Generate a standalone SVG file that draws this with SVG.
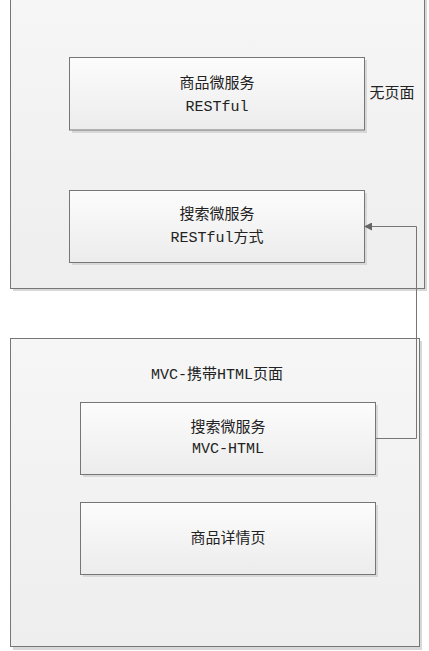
<svg xmlns="http://www.w3.org/2000/svg" width="429" height="651" viewBox="0 0 429 651">
<style>
.cont{fill:url(#gc);stroke:#767676;stroke-width:1}
.node{fill:url(#gn);stroke:#767676;stroke-width:1}
.sh{fill:#d8d8d8}
text{font-family:"Liberation Mono","Noto Sans CJK SC",monospace;font-size:15px;fill:#222;text-anchor:middle}
.conn{fill:none;stroke:#767676;stroke-width:1}
</style>
<defs>
<linearGradient id="gc" x1="0" y1="0" x2="0" y2="1"><stop offset="0" stop-color="#f6f6f6"/><stop offset="1" stop-color="#eeeeee"/></linearGradient>
<linearGradient id="gn" x1="0" y1="0" x2="0" y2="1"><stop offset="0" stop-color="#fcfcfc"/><stop offset="1" stop-color="#ececec"/></linearGradient>
<marker id="arr" markerWidth="8" markerHeight="8" refX="7" refY="4" orient="auto" markerUnits="userSpaceOnUse"><path d="M0,0 L8,4 L0,8 Z" fill="#666"/></marker>
</defs>
<g id="container-top">
<rect class="sh" x="13" y="-5" width="414" height="296"/>
<rect class="cont" x="10.5" y="-8" width="414" height="296.5"/>
</g>
<g id="container-bottom">
<rect class="sh" x="13" y="341" width="409" height="309"/>
<rect class="cont" x="10.5" y="338.5" width="409" height="308"/>
<text x="217" y="379">MVC-携带HTML页面</text>
</g>
<g id="node-product-rest">
<rect class="sh" x="72" y="60" width="295" height="73"/>
<rect class="node" x="69.5" y="57.5" width="295" height="72.5"/>
<text x="217" y="88">商品微服务</text>
<text x="217" y="111">RESTful</text>
</g>
<g id="label-nopage">
<text x="392" y="98">无页面</text>
</g>
<g id="node-search-rest">
<rect class="sh" x="72" y="193" width="295" height="72"/>
<rect class="node" x="69.5" y="190.5" width="295" height="72"/>
<text x="217" y="219">搜索微服务</text>
<text x="217" y="242">RESTful方式</text>
</g>
<g id="node-search-mvc">
<rect class="sh" x="83" y="405" width="295" height="72"/>
<rect class="node" x="80.5" y="402.5" width="295" height="72"/>
<text x="228" y="432">搜索微服务</text>
<text x="228" y="453">MVC-HTML</text>
</g>
<g id="node-product-detail">
<rect class="sh" x="83" y="505" width="295" height="72"/>
<rect class="node" x="80.5" y="502.5" width="295" height="72"/>
<text x="228" y="543">商品详情页</text>
</g>
<g id="connectors">
<path class="conn" d="M375.5,438.5 H416.5 V226.5 H365" marker-end="url(#arr)"/>
</g>
</svg>
